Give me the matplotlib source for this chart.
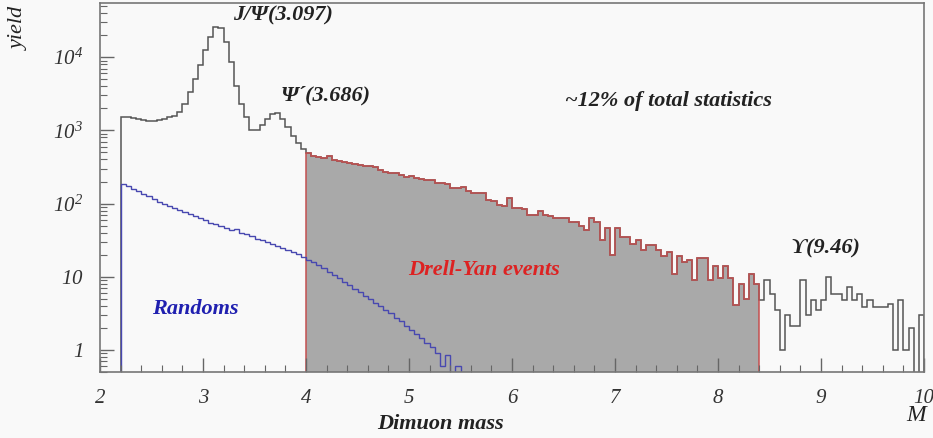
import numpy as np
import matplotlib
matplotlib.use('Agg')
import matplotlib.pyplot as plt

plt.rcParams['font.family'] = ['Liberation Serif', 'DejaVu Serif']
plt.rcParams['mathtext.fontset'] = 'custom'
plt.rcParams['mathtext.rm'] = 'Liberation Serif:italic'
plt.rcParams['mathtext.it'] = 'Liberation Serif:italic'

# bin layout of the histograms (GeV)
m_lo = 2.2
bw = 0.05

# dimuon yield, 2.20 - 4.00 (J/psi and psi' region)
peak = [1510, 1500, 1480, 1430, 1380, 1330, 1350, 1400, 1450, 1500,
        1580, 1800, 2300, 3300, 5000, 7800, 12500, 19000, 26000, 25000,
        16000, 8500, 4000, 2300, 1500, 1020, 1000, 1200, 1450, 1650,
        1700, 1450, 1100, 850, 680, 560]
# 4.00 - 8.40 (Drell-Yan window)
dy = [485, 440, 435, 420, 450, 390, 380, 370, 355, 345,
      335, 325, 325, 320, 286, 270, 258, 262, 245, 232,
      240, 225, 214, 212, 210, 189, 189, 185, 161, 165,
      170, 150, 138, 140, 140, 112, 108, 95, 92, 120,
      86, 86, 84, 70, 70, 80, 70, 68, 63, 63,
      63, 56, 56, 50, 44, 63, 56, 32, 46, 20,
      46, 35, 35, 28, 32, 23, 27, 27, 23, 19,
      22, 11, 19, 16, 17, 9, 18, 18, 9, 14,
      9.5, 14, 9.5, 4.1, 8, 5, 11, 8]
# 8.40 - 10.00 (Upsilon region)
tail = [4.8, 9, 5.9, 3.5, 1.0, 3.0, 2.1, 2.1, 9, 3.0,
        4.8, 3.5, 4.8, 10, 5.9, 5.9, 4.8, 7.3, 4.8, 5.9,
        3.9, 4.8, 3.9, 3.9, 3.9, 4.2, 1.0, 4.8, 1.0, 2.0,
        0.1, 3.0]
# random (combinatorial) background, 2.20 - 5.50
randoms = [186, 174, 158, 148, 135, 126, 115, 105, 98, 93,
           87, 81, 76, 71, 68, 63, 59, 55, 52, 50,
           47, 44, 45, 40, 38, 35.5, 33, 31.6, 30, 28,
           26, 25, 23.4, 22, 20.4, 18.6, 17, 15.8, 14.5, 13.2,
           11.5, 10.5, 9.5, 8.5, 7.8, 6.9, 6.2, 5.5, 5.0, 4.4,
           4.0, 3.5, 3.2, 2.75, 2.45, 2.15, 1.9, 1.65, 1.45, 1.25,
           1.1, 0.9, 0.6, 0.85, 0.3, 0.6]

allv = np.array(peak + dy + tail)
edges = m_lo + bw*np.arange(len(allv)+1)
i0 = len(peak)
i1 = i0 + len(dy)
r_edges = m_lo + bw*np.arange(len(randoms)+1)

bg = '#f9f9f9'
fig = plt.figure(figsize=(9.33, 4.38), dpi=100, facecolor=bg)
ax = fig.add_axes([0.1072, 0.1507, 0.8832, 0.8425], facecolor=bg)

base = 1e-3
ax.stairs(np.array(dy), edges[i0:i1+1], baseline=base, fill=True, color='#a9a9a9', lw=0)
ax.stairs(allv, edges, baseline=base, color='#555555', lw=1.1)
ax.stairs(np.array(dy), edges[i0:i1+1], baseline=base, color='#c45050', lw=1.1)
ax.stairs(np.array(randoms), r_edges, baseline=base, color='#4848b0', lw=1.0)

ax.set_yscale('log')
ax.set_xlim(2, 10)
ax.set_ylim(0.5, 5.5e4)

ax.set_xticks(range(2, 11))
ax.set_xticks(np.arange(2, 10.01, 0.2), minor=True)
ax.set_xticklabels([str(v) for v in range(2, 11)])
ax.set_yticks([1, 10, 100, 1e3, 1e4])
ax.set_yticklabels(['$1$', '$10$', '$10^{2}$', '$10^{3}$', '$10^{4}$'])
ax.tick_params(which='both', direction='in', top=False, right=False,
               color='#666666', labelsize=15, labelcolor='#333333')
ax.tick_params(which='major', length=10, width=1, pad=12)
ax.tick_params(which='minor', length=5, width=0.8)
for lab in ax.get_xticklabels():
    lab.set_fontstyle('italic')
for s in ax.spines.values():
    s.set_color('#777777')
    s.set_linewidth(1.2)

bi = dict(fontsize=16, fontweight='bold', fontstyle='italic', va='center', ha='left')
ax.text(3.29, 37000, 'J/Ψ(3.097)', color='#222222', **bi)
ax.text(3.75, 3020, 'Ψ´(3.686)', color='#222222', **bi)
ax.text(6.51, 2500, '~12% of total statistics', color='#222222', **bi)
ax.text(4.99, 12.3, 'Drell-Yan events', color='#dd2222', **bi)
ax.text(2.505, 3.6, 'Randoms', color='#2020b0', **bi)
ax.text(8.70, 24.6, 'ϒ(9.46)', color='#222222', **bi)

fig.text(0.021, 0.936, 'yield', rotation=90, fontsize=16, fontstyle='italic',
         ha='center', va='center', color='#222222')
fig.text(0.472, 0.032, 'Dimuon mass', fontsize=16, fontstyle='italic',
         fontweight='bold', ha='center', va='center', color='#222222')
fig.text(0.982, 0.052, 'M', fontsize=17, fontstyle='italic',
         ha='center', va='center', color='#222222')

fig.savefig('out.png', dpi=100, facecolor=bg)
